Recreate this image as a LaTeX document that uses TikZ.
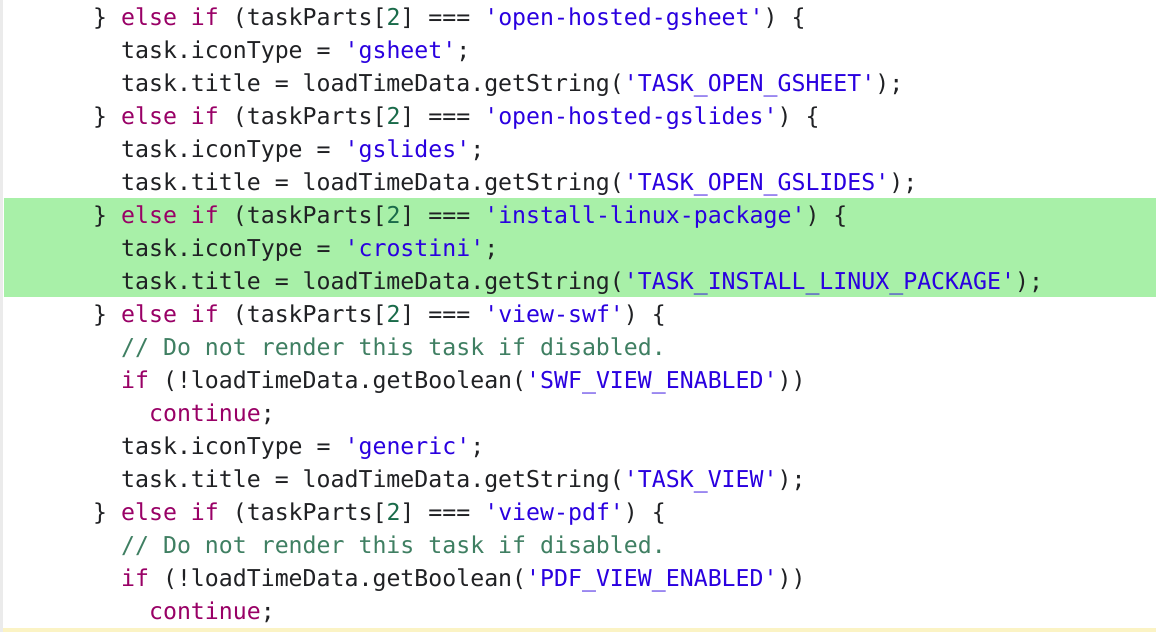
\documentclass[tikz,border=0pt]{standalone}
\usepackage{fontspec}
\newfontfamily\code{DejaVu Sans Mono}[Scale=1.0]
\definecolor{kw}{HTML}{990066}
\definecolor{st}{HTML}{2A00E0}
\definecolor{nu}{HTML}{1A6B4A}
\definecolor{cm}{HTML}{3F7F62}
\definecolor{tx}{HTML}{202124}
\definecolor{hl}{HTML}{A8F0A8}
\definecolor{yl}{HTML}{FBF3C4}
\newcommand\K[1]{\textcolor{kw}{#1}}
\newcommand\St[1]{\textcolor{st}{'#1'}}
\newcommand\N[1]{\textcolor{nu}{#1}}
\newcommand\C[1]{\textcolor{cm}{#1}}
\begin{document}
\begin{tikzpicture}[x=1pt,y=-1pt,
  ln/.style={anchor=base west,inner sep=0pt,text=tx,font=\code\fontsize{23.2}{28}\selectfont}]
\useasboundingbox (0,0) rectangle (1156,632);
\fill[white] (0,0) rectangle (1156,632);
\fill[hl] (4,198) rectangle (1156,297);
\fill[yl] (0,628) rectangle (1156,632);
\fill[black!8] (0,0) rectangle (3,632);
\node[ln] (l1) at (93,25) {\} \K{else} \K{if} (taskParts[\N{2}] === \St{open-hosted-gsheet}) \{};
\node[ln] (l2) at (93,58) {\ \ task.iconType = \St{gsheet};};
\node[ln] (l3) at (93,91) {\ \ task.title = loadTimeData.getString(\St{TASK\_OPEN\_GSHEET});};
\node[ln] (l4) at (93,124) {\} \K{else} \K{if} (taskParts[\N{2}] === \St{open-hosted-gslides}) \{};
\node[ln] (l5) at (93,157) {\ \ task.iconType = \St{gslides};};
\node[ln] (l6) at (93,190) {\ \ task.title = loadTimeData.getString(\St{TASK\_OPEN\_GSLIDES});};
\node[ln] (l7) at (93,223) {\} \K{else} \K{if} (taskParts[\N{2}] === \St{install-linux-package}) \{};
\node[ln] (l8) at (93,256) {\ \ task.iconType = \St{crostini};};
\node[ln] (l9) at (93,289) {\ \ task.title = loadTimeData.getString(\St{TASK\_INSTALL\_LINUX\_PACKAGE});};
\node[ln] (l10) at (93,322) {\} \K{else} \K{if} (taskParts[\N{2}] === \St{view-swf}) \{};
\node[ln] (l11) at (93,355) {\ \ \C{// Do not render this task if disabled.}};
\node[ln] (l12) at (93,388) {\ \ \K{if} (!loadTimeData.getBoolean(\St{SWF\_VIEW\_ENABLED}))};
\node[ln] (l13) at (93,421) {\ \ \ \ \K{continue};};
\node[ln] (l14) at (93,454) {\ \ task.iconType = \St{generic};};
\node[ln] (l15) at (93,487) {\ \ task.title = loadTimeData.getString(\St{TASK\_VIEW});};
\node[ln] (l16) at (93,520) {\} \K{else} \K{if} (taskParts[\N{2}] === \St{view-pdf}) \{};
\node[ln] (l17) at (93,553) {\ \ \C{// Do not render this task if disabled.}};
\node[ln] (l18) at (93,586) {\ \ \K{if} (!loadTimeData.getBoolean(\St{PDF\_VIEW\_ENABLED}))};
\node[ln] (l19) at (93,619) {\ \ \ \ \K{continue};};
\end{tikzpicture}
\end{document}
